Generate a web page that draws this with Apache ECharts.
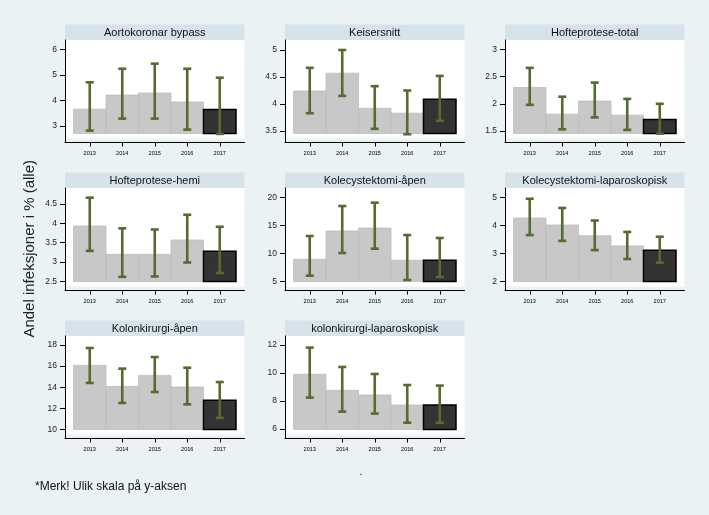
<!DOCTYPE html>
<html><head><meta charset="utf-8">
<script src="https://cdn.jsdelivr.net/npm/echarts@6/dist/echarts.min.js"></script>
<style>html,body{margin:0;padding:0;background:#eaf2f3}#c{width:709px;height:515px}</style>
</head><body><div id="c"></div>
<script>
// ---------- DATA ----------
const years = ['2013', '2014', '2015', '2016', '2017'];
const panelTitles = ['Aortokoronar bypass', 'Keisersnitt', 'Hofteprotese-total',
  'Hofteprotese-hemi', 'Kolecystektomi-åpen', 'Kolecystektomi-laparoskopisk',
  'Kolonkirurgi-åpen', 'kolonkirurgi-laparoskopisk'];

const aortoMean = [3.66, 4.21, 4.29, 3.94, 3.65];
const aortoLow  = [2.82, 3.29, 3.29, 2.86, 2.69];
const aortoHigh = [4.71, 5.24, 5.44, 5.24, 4.89];
const aortoTicks = [3, 4, 5, 6];
const aortoRange = [2.707, 6.365];

const keiserMean = [4.24, 4.57, 3.92, 3.83, 4.09];
const keiserLow  = [3.83, 4.15, 3.54, 3.44, 3.69];
const keiserHigh = [4.67, 5.00, 4.33, 4.25, 4.52];
const keiserTicks = [3.5, 4, 4.5, 5];
const keiserRange = [3.454, 5.185];

const hofteTotMean = [2.30, 1.81, 2.05, 1.79, 1.71];
const hofteTotLow  = [1.98, 1.53, 1.75, 1.52, 1.45];
const hofteTotHigh = [2.66, 2.13, 2.39, 2.09, 2.00];
const hofteTotTicks = [1.5, 2, 2.5, 3];
const hofteTotRange = [1.454, 3.172];

const hofteHemiMean = [3.93, 3.20, 3.20, 3.57, 3.28];
const hofteHemiLow  = [3.29, 2.62, 2.63, 2.99, 2.72];
const hofteHemiHigh = [4.66, 3.87, 3.84, 4.22, 3.91];
const hofteHemiTicks = [2.5, 3, 3.5, 4, 4.5];
const hofteHemiRange = [2.5, 4.91];

const koleApenMean = [8.93, 13.99, 14.52, 8.75, 8.75];
const koleApenLow  = [6.01, 10.06, 10.83, 5.24, 5.77];
const koleApenHigh = [13.09, 18.45, 19.05, 13.27, 12.74];
const koleApenTicks = [5, 10, 15, 20];
const koleApenRange = [4.97, 21.67];

const koleLapMean = [4.27, 4.02, 3.63, 3.27, 3.11];
const koleLapLow  = [3.66, 3.45, 3.12, 2.80, 2.67];
const koleLapHigh = [4.96, 4.63, 4.18, 3.77, 3.60];
const koleLapTicks = [2, 3, 4, 5];
const koleLapRange = [1.994, 5.346];

const kolonApenMean = [16.07, 14.08, 15.12, 14.02, 12.75];
const kolonApenLow  = [14.40, 12.50, 13.54, 12.37, 11.08];
const kolonApenHigh = [17.72, 15.76, 16.86, 15.85, 14.49];
const kolonApenTicks = [10, 12, 14, 16, 18];
const kolonApenRange = [9.98, 18.86];

const kolonLapMean = [9.91, 8.76, 8.43, 7.71, 7.71];
const kolonLapLow  = [8.24, 7.24, 7.10, 6.45, 6.45];
const kolonLapHigh = [11.81, 10.43, 9.93, 9.14, 9.10];
const kolonLapTicks = [6, 8, 10, 12];
const kolonLapRange = [5.964, 12.64];

const yTitle = 'Andel infeksjoner i % (alle)';
const noteText = '*Merk! Ulik skala på y-aksen';

// ---------- BUILD ----------
const panels = [
  [aortoMean, aortoLow, aortoHigh, aortoTicks, aortoRange],
  [keiserMean, keiserLow, keiserHigh, keiserTicks, keiserRange],
  [hofteTotMean, hofteTotLow, hofteTotHigh, hofteTotTicks, hofteTotRange],
  [hofteHemiMean, hofteHemiLow, hofteHemiHigh, hofteHemiTicks, hofteHemiRange],
  [koleApenMean, koleApenLow, koleApenHigh, koleApenTicks, koleApenRange],
  [koleLapMean, koleLapLow, koleLapHigh, koleLapTicks, koleLapRange],
  [kolonApenMean, kolonApenLow, kolonApenHigh, kolonApenTicks, kolonApenRange],
  [kolonLapMean, kolonLapLow, kolonLapHigh, kolonLapTicks, kolonLapRange]
];

const FONT = 'Liberation Sans, Arial, sans-serif';
const colLefts = [65, 285, 505];
const stripTops = [24.5, 172.5, 320.5];
const W = 179.5, STRIP_H = 15.5, PLOT_H = 93.5, PAD = 8.5;
const ERR = '#556b2f';

const grid = [], xAxis = [], yAxis = [], series = [], graphic = [];

panels.forEach((p, k) => {
  const [mean, low, high, ticks, range] = p;
  const c = k % 3, r = Math.floor(k / 3);
  const left = colLefts[c];
  const stripTop = stripTops[r];
  const plotTop = stripTop + STRIP_H;
  const base = plotTop + PLOT_H;
  const axisY = base + 9;

  graphic.push({type: 'rect', z: -10, shape: {x: left, y: stripTop, width: W, height: STRIP_H},
    style: {fill: '#d7e3ea'}});
  graphic.push({type: 'text', z: 5, x: left + W / 2, y: stripTop + STRIP_H / 2 + 0.5,
    style: {text: panelTitles[k], fontSize: 11, fontFamily: FONT, fill: '#111',
      align: 'center', verticalAlign: 'middle', textAlign: 'center', textVerticalAlign: 'middle'}});
  graphic.push({type: 'rect', z: -10, shape: {x: left, y: plotTop, width: W, height: PLOT_H + 5},
    style: {fill: '#ffffff'}});

  // frame grid (axis lines)
  const fg = grid.length;
  grid.push({left: left, top: plotTop, width: W, height: axisY - plotTop, show: false});
  xAxis.push({type: 'value', gridIndex: fg, min: 0, max: 1,
    axisLine: {show: true, lineStyle: {color: '#000', width: 1}},
    axisTick: {show: false}, axisLabel: {show: false}, splitLine: {show: false}});
  yAxis.push({type: 'value', gridIndex: fg, min: 0, max: 1,
    axisLine: {show: true, lineStyle: {color: '#000', width: 1}},
    axisTick: {show: false}, axisLabel: {show: false}, splitLine: {show: false}});

  // data grid
  const dg = grid.length;
  grid.push({left: left + PAD, top: plotTop, width: W - 2 * PAD, height: PLOT_H, show: false});
  xAxis.push({type: 'category', gridIndex: dg, data: years, offset: 9, boundaryGap: true,
    axisLine: {show: false},
    axisTick: {show: true, alignWithLabel: true, length: 4, interval: 0, lineStyle: {color: '#000', width: 1}},
    axisLabel: {interval: 0, fontSize: 5.6, fontFamily: FONT, color: '#000', margin: 8}});
  yAxis.push({type: 'value', gridIndex: dg, min: range[0], max: range[1], offset: PAD,
    axisLine: {show: false}, splitLine: {show: false},
    axisTick: {show: true, length: 5, customValues: ticks, lineStyle: {color: '#000', width: 1}},
    axisLabel: {customValues: ticks, fontSize: 8.5, fontFamily: FONT, color: '#222', margin: 8}});

  const baseVal = range[0];
  const last = mean.length - 1;
  series.push({
    type: 'custom', xAxisIndex: dg, yAxisIndex: dg, clip: false,
    encode: {x: 0, y: 1},
    data: mean.map((v, i) => [i, v]),
    renderItem: (params, api) => {
      const i = api.value(0);
      const top = api.coord([i, api.value(1)]);
      const bot = api.coord([i, baseVal]);
      const w = api.size([1, 0])[0];
      const isLast = params.dataIndex === last;
      return {type: 'rect',
        shape: {x: top[0] - w / 2, y: top[1], width: w, height: bot[1] - top[1]},
        style: {fill: isLast ? '#333333' : '#c8c8c8', stroke: isLast ? '#000' : '#bdbdbd',
          lineWidth: isLast ? 1.5 : 0.8}};
    }
  });
  series.push({
    type: 'custom', xAxisIndex: dg, yAxisIndex: dg, clip: false, z: 3,
    encode: {x: 0, y: [1, 2]},
    data: low.map((v, i) => [i, v, high[i]]),
    renderItem: (params, api) => {
      const i = api.value(0);
      const lo = api.coord([i, api.value(1)]);
      const hi = api.coord([i, api.value(2)]);
      const cap = 4;
      const st = {stroke: ERR, lineWidth: 2.6};
      return {type: 'group', children: [
        {type: 'line', shape: {x1: lo[0], y1: lo[1], x2: hi[0], y2: hi[1]}, style: st},
        {type: 'line', shape: {x1: hi[0] - cap, y1: hi[1], x2: hi[0] + cap, y2: hi[1]}, style: st},
        {type: 'line', shape: {x1: lo[0] - cap, y1: lo[1], x2: lo[0] + cap, y2: lo[1]}, style: st}
      ]};
    }
  });
});

graphic.push({type: 'text', x: 30, y: 160, rotation: Math.PI / 2,
  style: {text: yTitle, fontSize: 15, fontFamily: FONT, fill: '#222',
    align: 'right', verticalAlign: 'middle', textAlign: 'right', textVerticalAlign: 'middle'}});
graphic.push({type: 'text', x: 35, y: 487,
  style: {text: noteText, fontSize: 12, fontFamily: FONT, fill: '#111',
    align: 'left', verticalAlign: 'middle', textAlign: 'left', textVerticalAlign: 'middle'}});
graphic.push({type: 'text', x: 361, y: 472,
  style: {text: '.', fontSize: 11, fontFamily: FONT, fill: '#111',
    align: 'center', verticalAlign: 'middle', textAlign: 'center', textVerticalAlign: 'middle'}});

const chart = echarts.init(document.getElementById('c'), null, {renderer: 'canvas'});
chart.setOption({
  backgroundColor: '#eaf2f3',
  animation: false,
  grid, xAxis, yAxis, series, graphic
});
</script>
</body></html>
